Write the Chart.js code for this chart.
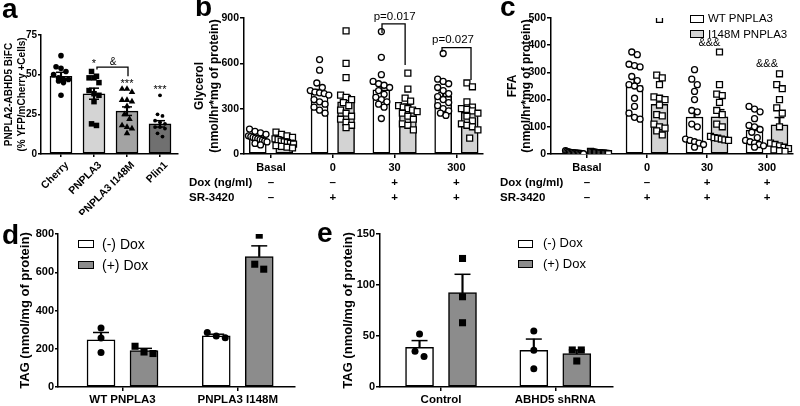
<!DOCTYPE html>
<html><head><meta charset="utf-8">
<script src="https://cdn.jsdelivr.net/npm/chart.js@4"></script>
<style>
body{margin:0;background:#fff;width:800px;height:406px;overflow:hidden;position:relative;font-family:"Liberation Sans",Arial,sans-serif;color:#000;}
canvas{position:absolute;}
.t{position:absolute;white-space:nowrap;color:#000;}
.letter{font-weight:bold;font-size:28px;line-height:28px;}
.box{position:absolute;box-sizing:border-box;border:1.5px solid #000;}
</style></head><body>
<canvas id="ca" width="190" height="215" style="left:0;top:0"></canvas>
<canvas id="cb" width="304" height="210" style="left:186px;top:0"></canvas>
<canvas id="cc" width="300" height="210" style="left:500px;top:0"></canvas>
<canvas id="cd" width="305" height="191" style="left:0;top:215px"></canvas>
<canvas id="ce" width="495" height="191" style="left:305px;top:215px"></canvas>
<div class="t letter" style="left:2px;top:-5px">a</div>
<div class="t letter" style="left:195px;top:-7px">b</div>
<div class="t letter" style="left:500px;top:-7px">c</div>
<div class="t letter" style="left:2px;top:221px">d</div>
<div class="t letter" style="left:317px;top:219px">e</div>
<div id="overlay"></div>
<script>
// ---------- Panel a ----------
const aCategories = ['Cherry', 'PNPLA3', 'PNPLA3 I148M', 'Plin1'];
const aMeans = [49, 38, 27, 19];
const aSem = [2.5, 3.5, 2.7, 2];
const aPoints = [
  [62, 55, 54, 52, 50, 48, 47, 47, 46, 45, 37],
  [52, 49, 48, 48, 45, 40, 38, 37, 33, 19, 18],
  [41, 41, 39, 34, 34, 33, 30, 25, 22, 18, 17, 16, 13],
  [37, 25, 24, 21, 20, 19, 17, 17, 16, 13, 11]
];
const aTickMax = 75, aTickStep = 25;

// ---------- Panel b (Glycerol) ----------
const bCategories = ['Basal', '0', '30', '300'];
const seriesNames = ['WT PNPLA3', 'I148M PNPLA3'];
const doseRow = ['\u2013', '\u2013', '+', '+'];
const srRow = ['\u2013', '+', '+', '+'];
const bWtMeans = [105, 402, 424, 382];
const bWtSem = [8, 25, 35, 27];
const bWtPoints = [
  [165, 150, 140, 130, 120, 115, 110, 105, 100, 95, 90, 85, 80, 70, 60],
  [625, 555, 470, 440, 420, 410, 405, 400, 390, 360, 345, 330, 310, 290, 270],
  [810, 640, 525, 480, 465, 455, 440, 420, 395, 375, 360, 345, 330, 310, 235],
  [665, 495, 480, 465, 440, 420, 400, 380, 360, 340, 320, 300, 285, 270, 255]
];
const bMutMeans = [80, 345, 305, 275];
const bMutSem = [8, 42, 25, 25];
const bMutPoints = [
  [145, 130, 120, 110, 100, 95, 85, 80, 75, 70, 65, 55, 50, 45, 40],
  [815, 600, 505, 390, 375, 360, 340, 320, 290, 270, 250, 230, 210, 190, 175],
  [535, 430, 370, 350, 320, 310, 300, 290, 280, 270, 250, 230, 200, 190, 160],
  [470, 445, 345, 310, 300, 295, 285, 270, 250, 220, 200, 190, 180, 160, 105]
];
const bTickMax = 900, bTickStep = 300;

// ---------- Panel c (FFA) ----------
const cCategories = ['Basal', '0', '30', '300'];
const cWtMeans = [5, 252, 136, 88];
const cWtSem = [1, 24, 27, 14];
const cWtPoints = [
  [12, 10, 8, 7, 6, 5, 5, 4, 4, 3, 3, 2, 2, 1, 1],
  [375, 365, 330, 325, 320, 285, 270, 255, 250, 240, 205, 175, 150, 135, 128],
  [310, 275, 255, 230, 200, 160, 155, 110, 100, 55, 50, 45, 40, 35, 25],
  [175, 165, 155, 130, 105, 100, 90, 80, 60, 50, 45, 40, 35, 30, 25]
];
const cMutMeans = [5, 183, 137, 107];
const cMutSem = [1, 28, 26, 27];
const cMutPoints = [
  [10, 8, 7, 6, 5, 5, 4, 4, 3, 3, 3, 2, 2, 1, 1],
  [495, 290, 280, 255, 210, 205, 200, 180, 145, 140, 110, 100, 95, 85, 70],
  [375, 255, 220, 215, 190, 160, 145, 110, 100, 65, 60, 58, 55, 52, 50],
  [295, 255, 240, 200, 170, 150, 100, 40, 35, 30, 25, 20, 15, 12, 10]
];
const cTickMax = 500, cTickStep = 100;

// ---------- Panel d (TAG) ----------
const doxNames = ['(-) Dox', '(+) Dox'];
const dCategories = ['WT PNPLA3', 'PNPLA3 I148M'];
const dMinusMeans = [247, 268];
const dMinusSem = [38, 8];
const dMinusPoints = [[309, 256, 180], [285, 267, 258]];
const dPlusMeans = [190, 682];
const dPlusSem = [12, 56];
const dPlusPoints = [[213, 183, 175], [794, 642, 616]];
const dTickMax = 800, dTickStep = 200;

// ---------- Panel e (TAG) ----------
const eCategories = ['Control', 'ABHD5 shRNA'];
const eMinusMeans = [39, 36];
const eMinusSem = [6.5, 11];
const eMinusPoints = [[52, 35, 30], [55, 36, 18]];
const ePlusMeans = [92.5, 32.7];
const ePlusSem = [18, 3.6];
const ePlusPoints = [[126, 88.5, 63], [36.3, 36.3, 25.5]];
const eTickMax = 150, eTickStep = 50;

// ================= helpers =================
const FAM = '"Liberation Sans", Arial, sans-serif';
Chart.defaults.font.family = FAM;
Chart.defaults.color = '#000';

function jitter(values, slot, thresh, maxSpan) {
  const idx = values.map((v, i) => i).sort((p, q) => values[q] - values[p]);
  const rows = []; let cur = null;
  idx.forEach(i => {
    if (cur && values[cur[0]] - values[i] <= thresh) cur.push(i);
    else { cur = [i]; rows.push(cur); }
  });
  const off = new Array(values.length).fill(0);
  rows.forEach(r => {
    const k = r.length; if (k < 2) return;
    const step = Math.min(slot, maxSpan / (k - 1));
    r.forEach((i, j) => { off[i] = (j - (k - 1) / 2) * step; });
  });
  return off;
}

function buildDatasets(p) {
  const ds = [];
  p.series.forEach(s => {
    const xs = s.means.map((m, i) => i + s.offset);
    ds.push({ type: 'bar', label: s.label, data: s.means.map((m, i) => ({ x: xs[i], y: m })),
      backgroundColor: s.fill, borderColor: '#000', borderWidth: p.barBorder, borderSkipped: false,
      barThickness: p.barThickness, grouped: false, order: 3 });
    ds.push({ type: 'bar', data: s.means.map((m, i) => ({ x: xs[i], y: [p.errDown ? m - s.sem[i] : m, m + s.sem[i]] })),
      backgroundColor: '#000', borderWidth: 0, barThickness: p.stemWidth, grouped: false, order: 2 });
    const caps = s.means.map((m, i) => ({ x: xs[i], y: m + s.sem[i] }));
    if (p.errDown) s.means.forEach((m, i) => caps.push({ x: xs[i], y: m - s.sem[i] }));
    ds.push({ type: 'scatter', data: caps, pointStyle: 'line', pointRadius: p.capHalf,
      borderColor: '#000', borderWidth: p.stemWidth, order: 2 });
    s.points.forEach((pts, i) => {
      const off = jitter(pts, p.slot, p.thresh, p.maxSpan);
      const pick = v => Array.isArray(v) ? v[i] : v;
      ds.push({ type: 'scatter', data: pts.map((v, j) => ({ x: xs[i] + off[j], y: v })),
        pointStyle: pick(s.marker.style), pointRadius: pick(s.marker.r),
        backgroundColor: pick(s.marker.fill), borderColor: '#000', borderWidth: pick(s.marker.bw), order: 1 });
    });
  });
  return ds;
}

function xAxis(min, max, cats, font, fit, rot, tl, pad, lo) {
  return {
    type: 'linear', min, max, offset: false,
    afterBuildTicks: s => { s.ticks = cats.map((c, i) => ({ value: i })); },
    ticks: { callback: v => cats[Math.round(v)] ?? '', font, padding: pad, autoSkip: false,
      maxRotation: rot, minRotation: rot, color: '#000', labelOffset: lo || 0 },
    grid: { display: true, drawOnChartArea: false, drawTicks: true, tickLength: tl, tickWidth: 1.5, color: '#000', lineWidth: 1.5, offset: false },
    border: { display: true, color: '#000', width: 1.5 },
    afterFit: s => { s.height = fit; }
  };
}
function yAxis(max, step, font, title, tFont, tPad, width, tl, pad) {
  return {
    type: 'linear', min: 0, max,
    ticks: { stepSize: step, font, padding: pad, color: '#000' },
    grid: { display: true, drawOnChartArea: false, drawTicks: true, tickLength: tl, tickWidth: 1.5, color: '#000', lineWidth: 1.5 },
    border: { display: true, color: '#000', width: 1.5 },
    title: { display: true, text: title, font: tFont, padding: { top: tPad, bottom: 0 }, color: '#000' },
    afterFit: s => { s.width = width; }
  };
}
function annotPlugin(a) {
  return { id: 'annot', afterDatasetsDraw(chart) {
    const ctx = chart.ctx, X = chart.scales.x, Y = chart.scales.y;
    ctx.save();
    ctx.strokeStyle = '#000'; ctx.fillStyle = '#000'; ctx.lineWidth = 1.3;
    (a.brackets || []).forEach(b => {
      ctx.beginPath();
      ctx.moveTo(X.getPixelForValue(b.x1), Y.getPixelForValue(b.y1));
      ctx.lineTo(X.getPixelForValue(b.x1), Y.getPixelForValue(b.y));
      ctx.lineTo(X.getPixelForValue(b.x2), Y.getPixelForValue(b.y));
      ctx.lineTo(X.getPixelForValue(b.x2), Y.getPixelForValue(b.y2));
      ctx.stroke();
    });
    ctx.textAlign = 'center'; ctx.textBaseline = 'middle';
    (a.texts || []).forEach(t => {
      ctx.font = t.font;
      ctx.fillText(t.text, X.getPixelForValue(t.x), Y.getPixelForValue(t.y));
    });
    ctx.restore();
  }};
}
function makeChart(id, p, x, y, padding, annots) {
  return new Chart(document.getElementById(id), {
    type: 'bar',
    data: { datasets: buildDatasets(p) },
    options: { responsive: false, animation: false, events: [], layout: { padding },
      plugins: { legend: { display: false }, tooltip: { enabled: false } },
      scales: { x, y } },
    plugins: [annotPlugin(annots)]
  });
}
const B = s => ({ size: s, weight: 'bold', family: FAM });
const N = s => s + 'px ' + FAM;

// ---------- Panel a ----------
makeChart('ca', {
  barThickness: 22, barBorder: 1.5, stemWidth: 1.5, capHalf: 5, errDown: true,
  slot: 0.15, thresh: 3.5, maxSpan: 0.6,
  series: [{ label: 'BiFC', offset: 0, means: aMeans, sem: aSem, points: aPoints,
    fill: ['#ffffff', '#d4d4d4', '#a3a3a3', '#707070'],
    marker: { style: ['circle', 'rect', 'triangle', 'circle'], r: [2.8, 3.9, 3.8, 1.9], fill: '#000', bw: 0 } }]
}, xAxis(-0.606, 3.545, aCategories, B(10.5), 61, 45, 3, 2, 6),
   yAxis(aTickMax, aTickStep, B(10), ['PNPLA2-ABHD5 BiFC', '(% YFP/mCherry +Cells)'], { ...B(10), lineHeight: 1.3 }, 3, 41, 3, 1),
   { top: 35, right: 12, left: 0, bottom: 0 },
   { brackets: [{ x1: 1.09, x2: 2.03, y: 54.8, y1: 53.3, y2: 49 }],
     texts: [{ text: '*', x: 1, y: 57, font: N(11) }, { text: '&', x: 1.58, y: 57.8, font: N(10) },
             { text: '***', x: 2, y: 44, font: N(11) }, { text: '***', x: 3, y: 40.5, font: N(11) }] });

// ---------- Panel b ----------
const hollow = { fill: '#fff', bw: 1.3 };
const chB = makeChart('cb', {
  barThickness: 17, barBorder: 1.5, stemWidth: 1.5, capHalf: 5, errDown: false,
  slot: 0.089, thresh: 40, maxSpan: 0.3,
  series: [
    { label: seriesNames[0], offset: -0.2144, means: bWtMeans, sem: bWtSem, points: bWtPoints, fill: '#ffffff',
      marker: { style: 'circle', r: 3, ...hollow } },
    { label: seriesNames[1], offset: 0.2144, means: bMutMeans, sem: bMutSem, points: bMutPoints, fill: '#d3d3d3',
      marker: { style: 'rect', r: 4.2, ...hollow } }]
}, xAxis(-0.437, 3.43, bCategories, B(11), 56, 0, 4, 3),
   yAxis(bTickMax, bTickStep, B(10.5), ['Glycerol', '(nmol/hr*mg of protein)'], { ...B(12), lineHeight: 1.2 }, 6.8, 58, 4, 1),
   { top: 18, right: 7, left: 0, bottom: 0 },
   { brackets: [{ x1: 1.796, x2: 2.17, y: 861, y1: 801, y2: 589 }, { x1: 2.767, x2: 3.236, y: 704, y1: 677, y2: 490 }],
     texts: [{ text: 'p=0.017', x: 2.0, y: 905, font: N(11.5) }, { text: 'p=0.027', x: 2.945, y: 755, font: N(11.5) }] });

// ---------- Panel c ----------
const chC = makeChart('cc', {
  barThickness: 17, barBorder: 1.5, stemWidth: 1.5, capHalf: 5, errDown: false,
  slot: 0.092, thresh: 22, maxSpan: 0.3,
  series: [
    { label: seriesNames[0], offset: -0.208, means: cWtMeans, sem: cWtSem, points: cWtPoints, fill: '#ffffff',
      marker: { style: 'circle', r: 3, ...hollow } },
    { label: seriesNames[1], offset: 0.208, means: cMutMeans, sem: cMutSem, points: cMutPoints, fill: '#d3d3d3',
      marker: { style: 'rect', r: 4.2, ...hollow } }]
}, xAxis(-0.6, 3.433, cCategories, B(11), 56, 0, 4, 3),
   yAxis(cTickMax, cTickStep, B(10.5), ['FFA', '(nmol/hr*mg of protein)'], { ...B(12), lineHeight: 1.2 }, 5.3, 51, 4, 1),
   { top: 18, right: 7, left: 0, bottom: 0 },
   { texts: [{ text: '&&&', x: 2.04, y: 409, font: N(11) }, { text: '&&&', x: 3.0, y: 330, font: N(11) }] });

// ---------- Panel d ----------
const filledPt = { fill: '#000', bw: 0 };
makeChart('cd', {
  barThickness: 28, barBorder: 1.5, stemWidth: 1.5, capHalf: 8, errDown: false,
  slot: 0.078, thresh: 42, maxSpan: 0.2,
  series: [
    { label: doxNames[0], offset: -0.1866, means: dMinusMeans, sem: dMinusSem, points: dMinusPoints, fill: '#ffffff',
      marker: { style: 'circle', r: 3.5, ...filledPt } },
    { label: doxNames[1], offset: 0.1866, means: dPlusMeans, sem: dPlusSem, points: dPlusPoints, fill: '#8c8c8c',
      marker: { style: 'rect', r: 5, ...filledPt } }]
}, xAxis(-0.56, 1.497, dCategories, B(11.5), 19, 0, 4, 2),
   yAxis(dTickMax, dTickStep, B(11), 'TAG (nmol/mg of protein)', { ...B(13), lineHeight: 1.2 }, 18, 58, 3, 1),
   { top: 19, right: 10, left: 0, bottom: 0 }, {});

// ---------- Panel e ----------
makeChart('ce', {
  barThickness: 28, barBorder: 1.5, stemWidth: 1.5, capHalf: 8, errDown: false,
  slot: 0.079, thresh: 7.8, maxSpan: 0.2,
  series: [
    { label: doxNames[0], offset: -0.188, means: eMinusMeans, sem: eMinusSem, points: eMinusPoints, fill: '#ffffff',
      marker: { style: 'circle', r: 3.5, ...filledPt } },
    { label: doxNames[1], offset: 0.188, means: ePlusMeans, sem: ePlusSem, points: ePlusPoints, fill: '#8c8c8c',
      marker: { style: 'rect', r: 5, ...filledPt } }]
}, xAxis(-0.534, 1.505, eCategories, B(11.5), 19, 0, 4, 2),
   yAxis(eTickMax, eTickStep, B(11), 'TAG (nmol/mg of protein)', { ...B(13), lineHeight: 1.2 }, 36, 75, 4, 1),
   { top: 19, right: 187, left: 0, bottom: 0 }, {});

// ---------- HTML overlay: treatment rows, legends ----------
const ov = document.getElementById('overlay');
function addText(txt, left, top, size, bold, center) {
  const d = document.createElement('div');
  d.className = 't'; d.textContent = txt;
  d.style.left = left + 'px'; d.style.top = top + 'px';
  d.style.fontSize = size + 'px'; d.style.lineHeight = Math.round(size * 1.2) + 'px';
  d.style.fontWeight = bold ? 'bold' : 'normal';
  if (center) d.style.transform = 'translateX(-50%)';
  ov.appendChild(d);
}
function addBox(left, top, w, h, fill) {
  const d = document.createElement('div');
  d.className = 'box'; d.style.left = left + 'px'; d.style.top = top + 'px';
  d.style.width = w + 'px'; d.style.height = h + 'px'; d.style.background = fill;
  ov.appendChild(d);
}
[[chB, 186, 189], [chC, 500, 500]].forEach(([ch, canvasLeft, labelLeft]) => {
  addText('Dox (ng/ml)', labelLeft, 175, 11.5, true, false);
  addText('SR-3420', labelLeft, 190, 11.5, true, false);
  doseRow.forEach((s, i) => addText(s, ch.scales.x.getPixelForValue(i) + canvasLeft, 175, 11.5, true, true));
  srRow.forEach((s, i) => addText(s, ch.scales.x.getPixelForValue(i) + canvasLeft, 190, 11.5, true, true));
});
// legend c
addBox(690, 14.5, 14, 8, '#ffffff'); addText(seriesNames[0], 708, 11, 11.5, false, false);
addBox(690, 30, 14, 8, '#d3d3d3'); addText(seriesNames[1], 708, 26.5, 11.5, false, false);
// legend d
addBox(78, 239.5, 16, 8, '#ffffff'); addText(doxNames[0], 102, 235.5, 14, false, false);
addBox(78, 260.5, 16, 8, '#8c8c8c'); addText(doxNames[1], 102, 256.5, 14, false, false);
// legend e
addBox(518, 239.5, 15, 8, '#ffffff'); addText(doxNames[0], 543, 235, 13, false, false);
addBox(518, 260, 15, 8, '#8c8c8c'); addText(doxNames[1], 543, 255.5, 13, false, false);
</script>
</body></html>
